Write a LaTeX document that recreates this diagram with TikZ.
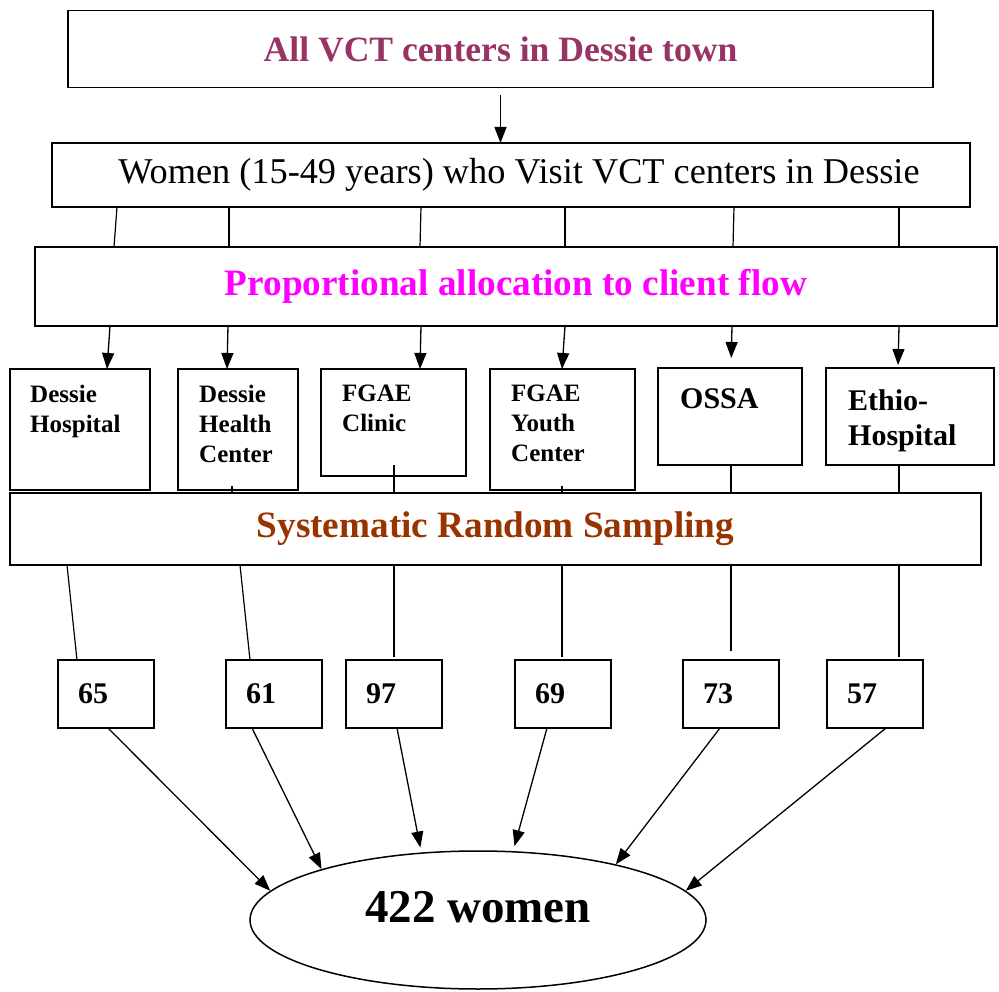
\documentclass[tikz,border=0pt]{standalone}
\usepackage{fontspec}
\setmainfont{Liberation Serif}
\usetikzlibrary{positioning,calc,arrows.meta,shapes.geometric}
\definecolor{titleplum}{HTML}{993366}
\definecolor{allocmagenta}{HTML}{FF00FF}
\definecolor{samplingbrown}{HTML}{993300}

\begin{document}
\begin{tikzpicture}[x=1pt, y=-1pt, stage/.style={draw, line width=1.8pt, inner sep=0pt, outer sep=0pt, align=center}, facility/.style={draw, line width=1.8pt, inner sep=0pt, outer sep=0pt, anchor=north west}, faclabel/.style={anchor=north west, inner sep=0pt, align=left, font=\fontsize{25}{30}\selectfont\bfseries}, count/.style={draw, line width=1.8pt, anchor=north west, minimum width=96pt, minimum height=68pt, inner xsep=20pt, inner ysep=0pt, outer sep=0pt, text width=56pt, align=left, font=\fontsize{30}{36}\selectfont\bfseries}, link/.style={line width=1.2pt}, arrow/.style={-{Triangle[length=16pt,width=12pt]}, line width=1.3pt}]
\useasboundingbox (0,0) rectangle (999,992);
\node[stage, minimum width=865pt, minimum height=77pt, font=\fontsize{35.6}{42}\selectfont\bfseries, text=titleplum] (title) at (500.5,49) {All VCT centers in Dessie town};
\node[stage, minimum width=918pt, minimum height=64pt, font=\fontsize{36.3}{43}\selectfont, label={[font=\fontsize{36.3}{43}\selectfont, inner sep=0pt, xshift=8pt]center:Women (15-49 years) who Visit VCT centers in Dessie}] (women) at (511,175) {};
\draw[arrow, shorten <=8pt] (title.south) -- (title.south |- women.north);
\node[stage, minimum width=962pt, minimum height=79pt, font=\fontsize{37.2}{44}\selectfont\bfseries, text=allocmagenta] (alloc) at (516,286.5) {Proportional allocation to client flow};
\draw[link] (women.south -| 117,0) -- (alloc.north -| 114,0);
\draw[link] (women.south -| 229,0) -- (alloc.north -| 229,0);
\draw[link] (women.south -| 421,0) -- (alloc.north -| 420,0);
\draw[link] (women.south -| 565,0) -- (alloc.north -| 565,0);
\draw[link] (women.south -| 734,0) -- (alloc.north -| 733,0);
\draw[link] (women.south -| 899,0) -- (alloc.north -| 899,0);
\node[facility, minimum width=140pt, minimum height=121pt, label={[faclabel, xshift=20pt, yshift=-16pt]north west:Dessie\\Hospital}] (f1) at (10,369) {};
\node[facility, minimum width=120pt, minimum height=121pt, label={[faclabel, xshift=21pt, yshift=-16pt]north west:Dessie\\Health\\Center}] (f2) at (178,369) {};
\node[facility, minimum width=145pt, minimum height=107pt, label={[faclabel, xshift=21pt, yshift=-16pt]north west:FGAE\\Clinic}] (f3) at (321,369) {};
\node[facility, minimum width=145pt, minimum height=121pt, label={[faclabel, xshift=21pt, yshift=-16pt]north west:FGAE\\Youth\\Center}] (f4) at (490,369) {};
\node[facility, minimum width=144pt, minimum height=97pt, label={[faclabel, font=\fontsize{30}{35}\selectfont\bfseries, xshift=22pt, yshift=-20pt]north west:OSSA}] (f5) at (658,368) {};
\node[facility, minimum width=168pt, minimum height=97pt, label={[faclabel, font=\fontsize{30}{35}\selectfont\bfseries, xshift=22pt, yshift=-21pt]north west:Ethio-\\Hospital}] (f6) at (826,368) {};
\draw[arrow] (alloc.south -| 110,0) -- (f1.north -| 107,0);
\draw[arrow] (alloc.south -| 228,0) -- (f2.north -| 227,0);
\draw[arrow] (alloc.south -| 421,0) -- (f3.north -| 420,0);
\draw[arrow] (alloc.south -| 565,0) -- (f4.north -| 562,0);
\draw[arrow, shorten >=10pt] (alloc.south -| 732,0) -- (f5.north -| 731,0);
\draw[arrow, shorten >=3pt] (alloc.south -| 899,0) -- (f6.north -| 898,0);
\node[stage, minimum width=971pt, minimum height=72pt, font=\fontsize{37.2}{44}\selectfont\bfseries, text=samplingbrown] (srs) at (495.5,529) {Systematic Random Sampling};
\draw[link] ($(f2.south -| 232,0)+(0,-4)$) -- (srs.north -| 232,0);
\draw[link] ($(f3.south -| 394,0)+(0,-11)$) -- (srs.north -| 394,0);
\draw[link] ($(f4.south -| 562,0)+(0,-4)$) -- (srs.north -| 562,0);
\draw[link] (f5.south -| 731,0) -- (srs.north -| 731,0);
\draw[link] (f6.south -| 899,0) -- (srs.north -| 899,0);
\node[count] (n1) at (58,660) {65};
\node[count] (n2) at (226,660) {61};
\node[count] (n3) at (346,660) {97};
\node[count] (n4) at (515,660) {69};
\node[count] (n5) at (683,660) {73};
\node[count] (n6) at (827,660) {57};
\draw[link] (srs.south -| 67,0) -- (n1.north -| 77,0);
\draw[link] (srs.south -| 240,0) -- (n2.north -| 250,0);
\draw[link, shorten >=3pt] (srs.south -| 394,0) -- (n3.north -| 394,0);
\draw[link, shorten >=3pt] (srs.south -| 562,0) -- (n4.north -| 562,0);
\draw[link, shorten >=9pt] (srs.south -| 731,0) -- (n5.north -| 731,0);
\draw[link, shorten >=3pt] (srs.south -| 899,0) -- (n6.north -| 899,0);
\node[draw, ellipse, line width=1.5pt, minimum width=456pt, minimum height=138pt, inner sep=0pt, text depth=27pt, font=\fontsize{47}{56}\selectfont\bfseries] (total) at (478,920) {422 women};
\draw[arrow] (n1.south -| 108,0) -- (total.172);
\draw[arrow] (n2.south -| 252,0) -- (total.162);
\draw[arrow, shorten >=5pt] (n3.south -| 397,0) -- (total.130);
\draw[arrow, shorten >=5pt] (n4.south -| 547,0) -- (total.63);
\draw[arrow] (n5.south -| 720,0) -- (total.22);
\draw[arrow] (n6.south -| 886,0) -- (total.8);
\end{tikzpicture}
\end{document}
